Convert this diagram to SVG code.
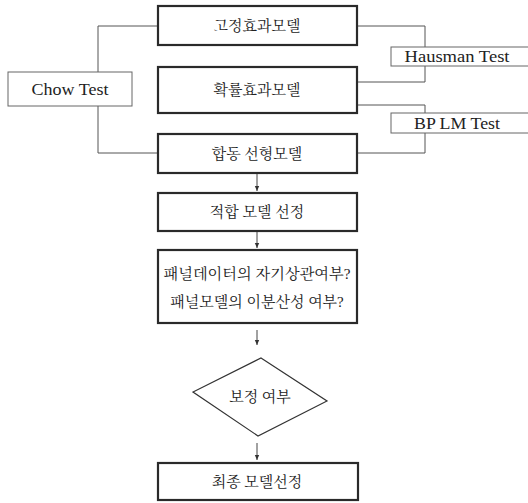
<svg xmlns="http://www.w3.org/2000/svg" width="528" height="503" viewBox="0 0 528 503">
<defs>
<marker id="ah" markerWidth="6" markerHeight="6" refX="5" refY="3" orient="auto" markerUnits="userSpaceOnUse">
<path d="M0,0.8 L5,3 L0,5.2 Z" fill="#333"/>
</marker>
<style>
.box{fill:#fff;stroke:#2a2a2a;stroke-width:2.2}
.tbox{fill:#fff;stroke:#666;stroke-width:1}
.con{fill:none;stroke:#555;stroke-width:1}
.arr{fill:none;stroke:#444;stroke-width:1;marker-end:url(#ah)}
.kt{font-family:"Liberation Serif","Noto Serif CJK KR","Noto Sans CJK KR",serif;font-size:15px;fill:#222;text-anchor:middle}
.et{font-family:"Liberation Serif",serif;font-size:17.5px;fill:#222;text-anchor:middle}
</style>
</defs>
<rect width="528" height="503" fill="#fff"/>
<g id="connectors">
<path class="con" d="M158,26 H98 V72"/>
<path class="con" d="M98,106 V153 H158"/>
<path class="con" d="M357,26 H425 V47"/>
<path class="con" d="M425,66 V82 H357"/>
<path class="con" d="M357,105 H425 V113"/>
<path class="con" d="M425,133 V153 H357"/>
<path class="arr" d="M257,173 V191"/>
<path class="arr" d="M257,231 V248"/>
<path class="arr" d="M257,330 V345"/>
<path class="arr" d="M257,443 V460"/>
</g>
<g id="n1"><rect class="box" x="158" y="6" width="199" height="39"/><text class="kt" x="257" y="31">고정효과모델</text></g>
<g id="n2"><rect class="box" x="158" y="67" width="199" height="46"/><text class="kt" x="257" y="95">확률효과모델</text></g>
<g id="n3"><rect class="box" x="158" y="134" width="199" height="39"/><text class="kt" x="257" y="159">합동 선형모델</text></g>
<g id="chow"><rect class="tbox" x="8" y="72" width="124" height="34"/><text class="et" x="70" y="95" textLength="77" lengthAdjust="spacingAndGlyphs">Chow Test</text></g>
<g id="hausman"><rect class="tbox" x="391" y="47" width="140" height="19"/><text class="et" x="457" y="62" textLength="105" lengthAdjust="spacingAndGlyphs">Hausman Test</text></g>
<g id="bplm"><rect class="tbox" x="391" y="113" width="140" height="20"/><text class="et" x="457" y="129" textLength="86" lengthAdjust="spacingAndGlyphs">BP LM Test</text></g>
<g id="n4"><rect class="box" x="158" y="193" width="199" height="38"/><text class="kt" x="257" y="217">적합 모델 선정</text></g>
<g id="n5"><rect class="box" x="158" y="250" width="199" height="73"/><text class="kt" x="257" y="279" textLength="187" lengthAdjust="spacingAndGlyphs">패널데이터의 자기상관여부?</text><text class="kt" x="257" y="307">패널모델의 이분산성 여부?</text></g>
<g id="n6"><polygon points="261,358 327,401 258,436 193,392" fill="#fff" stroke="#333" stroke-width="1.2"/><text class="kt" x="260" y="402">보정 여부</text></g>
<g id="n7"><rect class="box" x="158" y="463" width="200" height="37"/><text class="kt" x="257" y="487">최종 모델선정</text></g>
</svg>
